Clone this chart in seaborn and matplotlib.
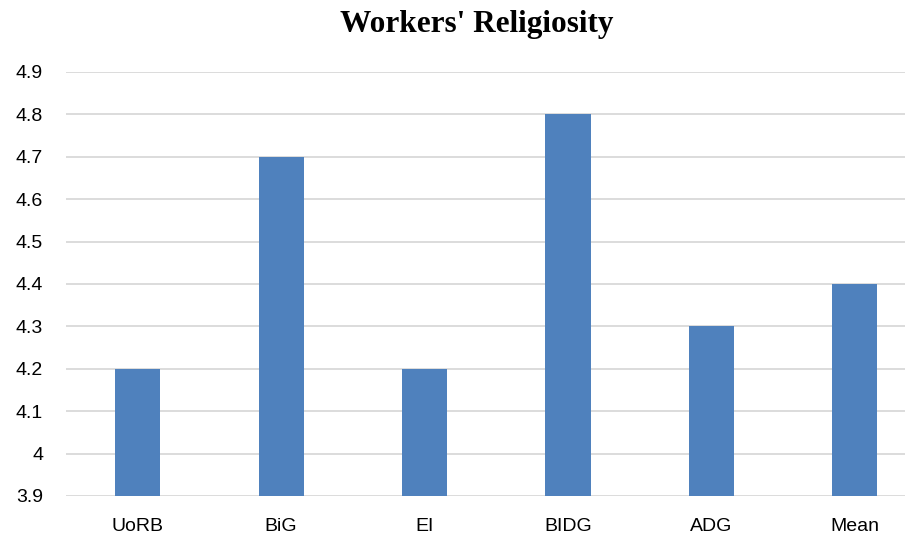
import matplotlib
matplotlib.use('Agg')
import matplotlib.pyplot as plt
import seaborn as sns
import pandas as pd

categorias = ['UoRB', 'BiG', 'EI', 'BIDG', 'ADG', 'Mean']
valores = [4.2, 4.7, 4.2, 4.8, 4.3, 4.4]
ticks_y = [3.9, 4.0, 4.1, 4.2, 4.3, 4.4, 4.5, 4.6, 4.7, 4.8, 4.9]
etiquetas_y = ['3.9', '4', '4.1', '4.2', '4.3', '4.4', '4.5', '4.6', '4.7', '4.8', '4.9']
titulo = "Workers' Religiosity"

df = pd.DataFrame({'cat': categorias, 'val': valores})

sns.set_theme(style='white')
plt.rcParams['font.family'] = ['Liberation Sans', 'DejaVu Sans']

fig = plt.figure(figsize=(9.14, 5.37), dpi=100)
ax = fig.add_axes([66 / 914, 41 / 537, (905 - 66) / 914, (496 - 72) / 537])

sns.barplot(data=df, x='cat', y='val', color='#4F81BD', saturation=1,
            width=0.315, linewidth=0, ax=ax, zorder=3)
# barras desde 3.9
for p in ax.patches:
    h = p.get_height()
    p.set_y(3.9)
    p.set_height(h - 3.9)

ax.set_ylim(3.9, 4.9)
ax.set_xlim(-0.5, 5.35)
ax.set_yticks(ticks_y)
ax.set_yticklabels(etiquetas_y)
ax.yaxis.grid(True, color='#D9D9D9', linewidth=1.3, zorder=0)
ax.set_xlabel('')
ax.set_ylabel('')
for s in ['top', 'right', 'left', 'bottom']:
    ax.spines[s].set_visible(False)
ax.tick_params(axis='both', length=0, labelsize=14, colors='#000000')
ax.tick_params(axis='y', pad=16.5)
ax.tick_params(axis='x', pad=16)

fig.text(0.521, 0.955, titulo, ha='center', va='center', fontsize=22.5,
         fontweight='bold', color='#000000',
         family=['Liberation Serif', 'DejaVu Serif'])

fig.savefig('out.png', dpi=100)
